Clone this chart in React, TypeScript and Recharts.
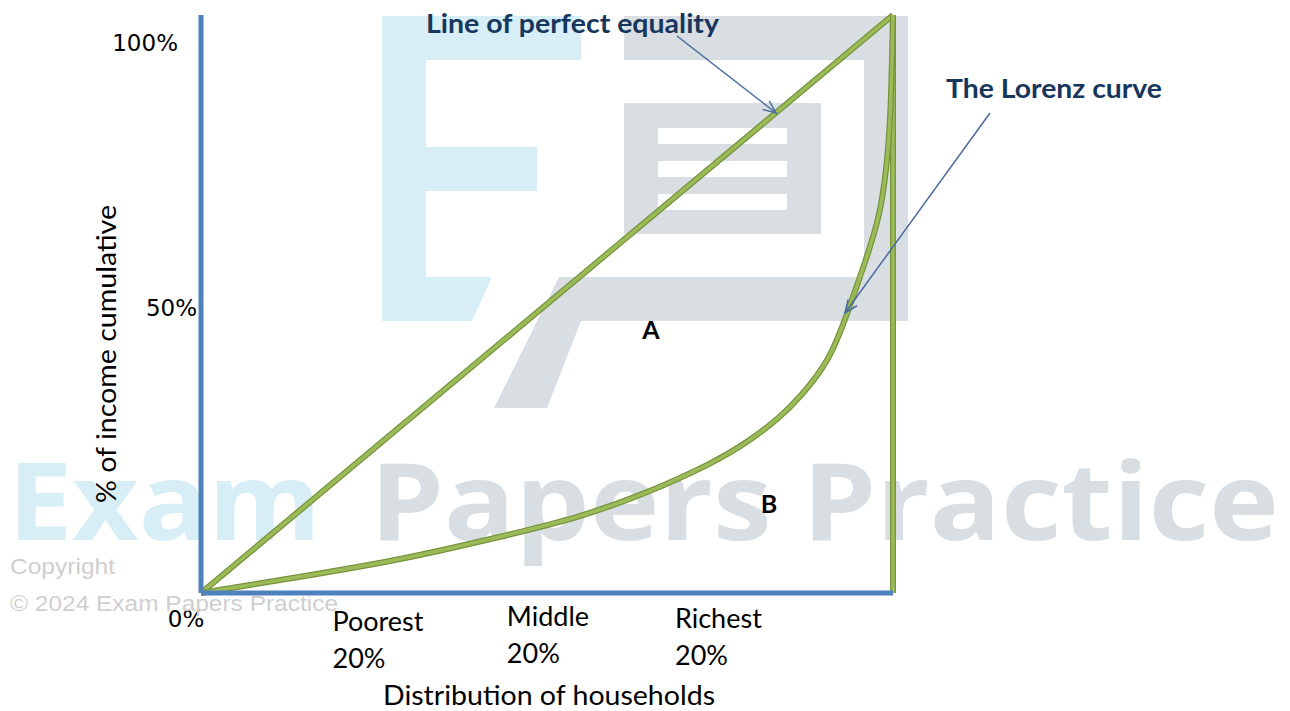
import React from 'react';
import { LineChart, Line, XAxis, YAxis, ReferenceLine } from 'recharts';

// cumulative % of households (x) and % of income (y) along the Lorenz curve
const householdShare = [0, 14.3, 28.8, 43.2, 54.8, 64.5, 74.0, 78.9, 83.7, 86.6, 90.9, 93.4, 96.0, 98.1, 99.1, 99.7, 100];
const incomeShare = [0, 2.8, 5.7, 9.7, 13.1, 17.3, 22.5, 26.0, 30.4, 33.9, 40.3, 48.4, 57.3, 65.1, 73.7, 83.0, 100];

// line of perfect equality
const equalityX = [0, 100];
const equalityY = [0, 100];

const incomeTicks = [0, 50, 100];
const incomeTickLabels = ['0%', '50%', '100%'];

const householdTicks = [19, 44.2, 68.5];
const groupLabels = ['Poorest', 'Middle', 'Richest'];
const groupShares = ['20%', '20%', '20%'];

const lorenzData = householdShare.map((x, i) => ({ x, y: incomeShare[i] }));
const equalityData = equalityX.map((x, i) => ({ x, y: equalityY[i] }));

const AXIS_BLUE = '#4f81bd';
const GREEN_DARK = '#77933c';
const GREEN = '#9bbb59';
const NAVY = '#17365d';
const LABEL_FONT = 'Lato, "Open Sans", sans-serif';

const IncomeTick = (props: any) => {
    const { x, y, payload } = props;
    const idx = incomeTicks.indexOf(payload.value);
    const label = incomeTickLabels[idx];
    // nudges so labels sit like the original slide
    let dx = -4;
    let dy = 4;
    let anchor: 'end' | 'middle' = 'end';
    if (payload.value === 100) { dx = -23; dy = 28; }
    if (payload.value === 0) { dx = -15; dy = 26; anchor = 'middle'; }
    return (
        <text x={x + dx} y={y + dy + 8} textAnchor={anchor} fontFamily='"DejaVu Sans", Verdana, sans-serif' fontSize={23} fill="#000">
            {label}
        </text>
    );
};

const groupNudge = [5, 0, 2];

const HouseholdTick = (props: any) => {
    const { x, y, index } = props;
    const n = groupNudge[index] ?? 0;
    return (
        <g fontFamily={LABEL_FONT} fontSize={27} fill="#000">
            <text x={x} y={y + 24 + n + 9}>{groupLabels[index]}</text>
            <text x={x} y={y + 61 + n + 9}>{groupShares[index]}</text>
        </g>
    );
};

const arrowHead = (x1: number, y1: number, x2: number, y2: number, len = 14, spread = 0.4) => {
    const a = Math.atan2(y2 - y1, x2 - x1);
    const p1 = [x2 - len * Math.cos(a - spread), y2 - len * Math.sin(a - spread)];
    const p2 = [x2 - len * Math.cos(a + spread), y2 - len * Math.sin(a + spread)];
    return `${p1[0]},${p1[1]} ${x2},${y2} ${p2[0]},${p2[1]}`;
};

function Watermark() {
    const blue = '#d7eef6';
    const gray = '#d9dee2';
    return (
        <svg width={1290} height={711} style={{ position: 'absolute', left: 0, top: 0 }}>
            {/* E */}
            <rect x={382} y={16} width={199} height={44} fill={blue} />
            <rect x={382} y={16} width={44} height={305} fill={blue} />
            <rect x={382} y={147} width={155} height={44} fill={blue} />
            <polygon points="382,277 492,277 472,321 382,321" fill={blue} />
            {/* P */}
            <rect x={624} y={16} width={284} height={44} fill={gray} />
            <rect x={864} y={16} width={44} height={305} fill={gray} />
            <rect x={624} y={103} width={197} height={131} fill={gray} />
            <rect x={658} y={128} width={129} height={16} fill="#fff" />
            <rect x={658} y={161} width={129} height={16} fill="#fff" />
            <rect x={658} y={194} width={129} height={16} fill="#fff" />
            <polygon points="559,277 908,277 908,321 581,321 547,408 494,408" fill={gray} />
            {/* big text */}
            <text x={8} y={540} fontFamily='"Open Sans", sans-serif' fontWeight={700} fontSize={108} fill={blue} textLength={313} lengthAdjust="spacingAndGlyphs">Exam</text>
            <text x={370} y={540} fontFamily='"Open Sans", sans-serif' fontWeight={700} fontSize={108} fill={gray} textLength={909} lengthAdjust="spacingAndGlyphs">Papers Practice</text>
        </svg>
    );
}

function Annotations() {
    const arrowColor = '#4a6b9e';
    const a1 = [677, 36, 776, 113];
    const a2 = [990, 113, 845, 313];
    return (
        <svg width={1290} height={711} style={{ position: 'absolute', left: 0, top: 0, pointerEvents: 'none' }}>
            <text x={426} y={33} fontFamily={LABEL_FONT} fontWeight={700} fontSize={27} fill={NAVY} textLength={293} lengthAdjust="spacingAndGlyphs">Line of perfect equality</text>
            <text x={946} y={98} fontFamily={LABEL_FONT} fontWeight={700} fontSize={27} fill={NAVY} textLength={216} lengthAdjust="spacingAndGlyphs">The Lorenz curve</text>
            <line x1={a1[0]} y1={a1[1]} x2={a1[2]} y2={a1[3]} stroke={arrowColor} strokeWidth={1.5} />
            <polyline points={arrowHead(a1[0], a1[1], a1[2], a1[3])} fill="none" stroke={arrowColor} strokeWidth={1.5} />
            <line x1={a2[0]} y1={a2[1]} x2={a2[2]} y2={a2[3]} stroke={arrowColor} strokeWidth={1.5} />
            <polyline points={arrowHead(a2[0], a2[1], a2[2], a2[3])} fill="none" stroke={arrowColor} strokeWidth={1.5} />
            <text x={651} y={339} textAnchor="middle" fontFamily={LABEL_FONT} fontWeight={700} fontSize={25} fill="#000">A</text>
            <text x={769} y={513} textAnchor="middle" fontFamily={LABEL_FONT} fontWeight={700} fontSize={25} fill="#000">B</text>
            <text x={10} y={574} fontFamily='"Liberation Sans", Arial, sans-serif' fontSize={22} fill="#cfcfcf" textLength={105} lengthAdjust="spacingAndGlyphs">Copyright</text>
            <text x={10} y={611} fontFamily='"Liberation Sans", Arial, sans-serif' fontSize={22} fill="#cfcfcf" textLength={328} lengthAdjust="spacingAndGlyphs">© 2024 Exam Papers Practice</text>
        </svg>
    );
}

export default function App() {
    return (
        <div style={{ position: 'absolute', left: 0, top: 0, width: 1290, height: 711, background: '#fff', overflow: 'hidden' }}>
            <Watermark />
            <div style={{ position: 'absolute', left: 0, top: 0 }}>
                <LineChart width={1290} height={711} margin={{ top: 15, right: 397, bottom: 0, left: 0 }}>
                    <XAxis
                        type="number"
                        dataKey="x"
                        domain={[0, 100]}
                        ticks={householdTicks}
                        height={118}
                        tickSize={0}
                        tickMargin={0}
                        tickLine={false}
                        axisLine={{ stroke: AXIS_BLUE, strokeWidth: 5 }}
                        tick={<HouseholdTick />}
                        interval={0}
                        label={{
                            content: (p: any) => {
                                const vb = p.viewBox || { x: 201, y: 593, width: 692, height: 118 };
                                return (
                                    <text x={vb.x + vb.width / 2 + 2} y={vb.y + 112} textAnchor="middle" fontFamily={LABEL_FONT} fontSize={26} fill="#000" textLength={332} lengthAdjust="spacingAndGlyphs">
                                        Distribution of households
                                    </text>
                                );
                            },
                        }}
                    />
                    <YAxis
                        type="number"
                        domain={[0, 100]}
                        ticks={incomeTicks}
                        width={201}
                        tickSize={0}
                        tickMargin={0}
                        tickLine={false}
                        axisLine={{ stroke: AXIS_BLUE, strokeWidth: 5 }}
                        tick={<IncomeTick />}
                        interval={0}
                        label={{
                            content: (p: any) => {
                                const vb = p.viewBox || { x: 0, y: 15, width: 201, height: 578 };
                                const cx = 116;
                                const cy = vb.y + vb.height / 2 + 50;
                                return (
                                    <text x={cx} y={cy} transform={`rotate(-90 ${cx} ${cy})`} textAnchor="middle" fontFamily={LABEL_FONT} fontSize={26} fill="#000" textLength={298} lengthAdjust="spacingAndGlyphs">
                                        % of income cumulative
                                    </text>
                                );
                            },
                        }}
                    />
                    <ReferenceLine x={100} stroke={GREEN_DARK} strokeWidth={6} />
                    <ReferenceLine x={100} stroke={GREEN} strokeWidth={3.5} />
                    <Line data={equalityData} dataKey="y" type="linear" stroke={GREEN_DARK} strokeWidth={6} dot={false} isAnimationActive={false} />
                    <Line data={equalityData} dataKey="y" type="linear" stroke={GREEN} strokeWidth={3.5} dot={false} isAnimationActive={false} />
                    <Line data={lorenzData} dataKey="y" type="basis" stroke={GREEN_DARK} strokeWidth={6} dot={false} isAnimationActive={false} />
                    <Line data={lorenzData} dataKey="y" type="basis" stroke={GREEN} strokeWidth={3.5} dot={false} isAnimationActive={false} />
                </LineChart>
            </div>
            <Annotations />
        </div>
    );
}
